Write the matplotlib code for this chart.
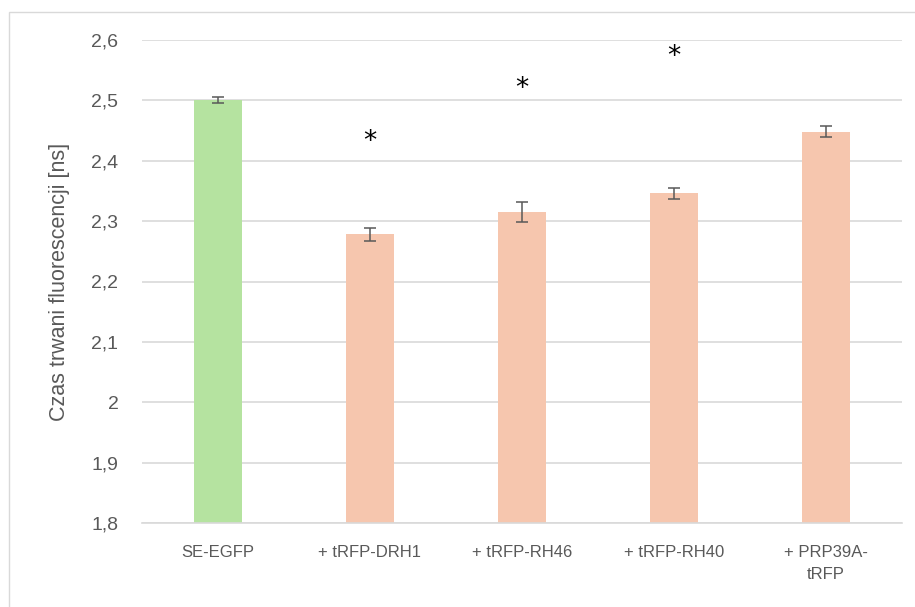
import matplotlib
matplotlib.use("Agg")
import matplotlib.pyplot as plt
from matplotlib.patches import Rectangle

categories = ["SE-EGFP", "+ tRFP-DRH1", "+ tRFP-RH46", "+ tRFP-RH40", "+ PRP39A-\ntRFP"]
values = [2.500, 2.278, 2.315, 2.346, 2.448]
errors = [0.005, 0.011, 0.017, 0.009, 0.009]
star_y = [None, 2.443, 2.531, 2.584, None]
bar_colors = ["#B5E3A0", "#F6C6AE", "#F6C6AE", "#F6C6AE", "#F6C6AE"]
yticks = [1.8, 1.9, 2.0, 2.1, 2.2, 2.3, 2.4, 2.5, 2.6]
ytick_labels = ["1,8", "1,9", "2", "2,1", "2,2", "2,3", "2,4", "2,5", "2,6"]

plt.rcParams['font.family'] = ['Liberation Sans', 'DejaVu Sans']

fig = plt.figure(figsize=(9.15, 6.07), dpi=100)
ax = fig.add_axes([142/915, 1-523/607, (902-142)/915, (523-40)/607])

x = list(range(len(categories)))
ax.bar(x, [v - 1.8 for v in values], bottom=1.8, width=0.32, color=bar_colors, zorder=2)
ax.errorbar(x, values, yerr=errors, fmt='none', ecolor='#595959', elinewidth=1.1,
            capsize=4.2, capthick=1.1, zorder=3)
for xi, sy in zip(x, star_y):
    if sy is not None:
        ax.annotate("*", (xi, sy), xytext=(0, -5), textcoords='offset points',
                    ha='center', va='center', fontsize=19, color='black',
                    family='DejaVu Sans', zorder=4)

ax.set_xlim(-0.5, len(categories) - 0.5)
ax.set_ylim(1.8, 2.6)
ax.set_yticks(yticks)
ax.set_yticklabels(ytick_labels)
ax.set_xticks(x)
ax.set_xticklabels(categories)
for lbl in ax.get_xticklabels():
    lbl.set_linespacing(1.6)
ax.grid(axis='y', color='#D9D9D9', linewidth=1.2, zorder=0)
ax.set_axisbelow(True)
for s in ['top', 'right', 'left']:
    ax.spines[s].set_visible(False)
ax.spines['bottom'].set_color('#D9D9D9')
ax.spines['bottom'].set_linewidth(1.2)
ax.tick_params(axis='y', length=0, pad=17, labelsize=14, labelcolor='#595959')
ax.tick_params(axis='x', length=0, pad=16, labelsize=12, labelcolor='#595959')
ax.set_ylabel("Czas trwani fluorescencji [ns]", fontsize=15.5, color='#595959', labelpad=15)

fig.patches.append(Rectangle((9/915, -0.1), 1.2, 1.1 - 12/607,
                             transform=fig.transFigure, fill=False,
                             edgecolor='#D9D9D9', linewidth=1.0))

fig.savefig("out.png", dpi=100)
